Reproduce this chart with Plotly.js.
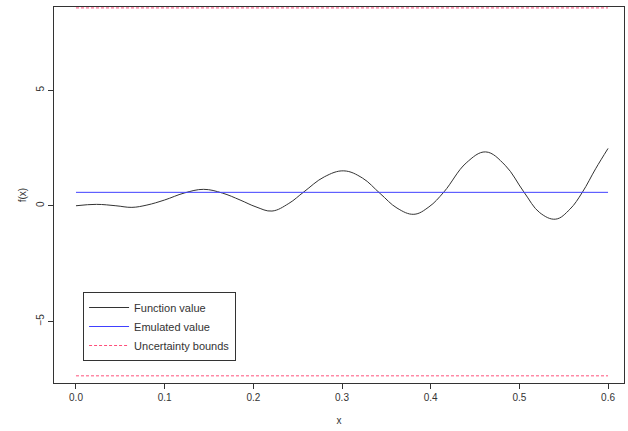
<!DOCTYPE html>
<html>
<head>
<script src="https://cdn.plot.ly/plotly-3.0.1.min.js"></script>
<style>body{margin:0;background:#fff}</style>
</head>
<body>
<div id="chart" style="width:628px;height:431px"></div>
<script>
// values
const xs = [0, 0.023, 0.045, 0.063, 0.08, 0.1, 0.122, 0.144, 0.165, 0.185, 0.203, 0.221, 0.24, 0.257, 0.28, 0.302, 0.323, 0.343, 0.362, 0.381, 0.398, 0.415, 0.44, 0.462, 0.484, 0.505, 0.523, 0.541, 0.557, 0.571, 0.586, 0.6];
const fx = [0, 0.06, 0.0, -0.07, 0.03, 0.25, 0.55, 0.71, 0.55, 0.25, -0.05, -0.23, 0.1, 0.6, 1.25, 1.51, 1.2, 0.53, -0.1, -0.37, -0.05, 0.6, 1.85, 2.33, 1.75, 0.6, -0.3, -0.58, -0.15, 0.58, 1.6, 2.48];
const xRange = [0, 0.6];
const emulated = 0.58;
const upper = 8.56;
const lower = -7.36;

const traces = [
    {
        x: xs, y: fx, type: 'scatter', mode: 'lines', name: 'Function value',
        line: { color: '#333333', width: 1, shape: 'spline', smoothing: 1.1 }
    },
    {
        x: xRange, y: [emulated, emulated], type: 'scatter', mode: 'lines', name: 'Emulated value',
        line: { color: '#4040ff', width: 1 }
    },
    {
        x: xRange, y: [upper, upper], type: 'scatter', mode: 'lines', name: 'Uncertainty bounds',
        line: { color: '#ff4f7a', width: 1, dash: '3px,2px' }
    },
    {
        x: xRange, y: [lower, lower], type: 'scatter', mode: 'lines', showlegend: false,
        line: { color: '#ff4f7a', width: 1, dash: '3px,2px' }
    }
];

const layout = {
    width: 628, height: 431,
    paper_bgcolor: '#fff', plot_bgcolor: '#fff',
    margin: { l: 54, r: 4, t: 7, b: 48 },
    font: { family: 'Liberation Sans, Arial, sans-serif', size: 10, color: '#333' },
    showlegend: true,
    legend: {
        x: 0.051, y: 0.242, xanchor: 'left', yanchor: 'top',
        bordercolor: '#333', borderwidth: 1, bgcolor: '#fff',
        font: { size: 11 }, tracegroupgap: 4, itemwidth: 40,
        entrywidth: 130
    },
    xaxis: {
        range: [-0.0248, 0.618], tickvals: [0, 0.1, 0.2, 0.3, 0.4, 0.5, 0.6],
        ticktext: ['0.0', '0.1', '0.2', '0.3', '0.4', '0.5', '0.6'],
        showgrid: false, zeroline: false, showline: true, mirror: true, linecolor: '#333',
        ticks: 'outside', ticklen: 5, tickcolor: '#333',
        title: { text: 'x', font: { size: 10 }, standoff: 14 }
    },
    yaxis: {
        range: [-7.67, 8.6], tickvals: [-5, 0, 5], tickangle: -90,
        showgrid: false, zeroline: false, showline: true, mirror: true, linecolor: '#333',
        ticks: 'outside', ticklen: 5, tickcolor: '#333',
        title: { text: 'f(x)', font: { size: 10 }, standoff: 6 }
    }
};

Plotly.newPlot('chart', traces, layout, { displayModeBar: false });
</script>
</body>
</html>
